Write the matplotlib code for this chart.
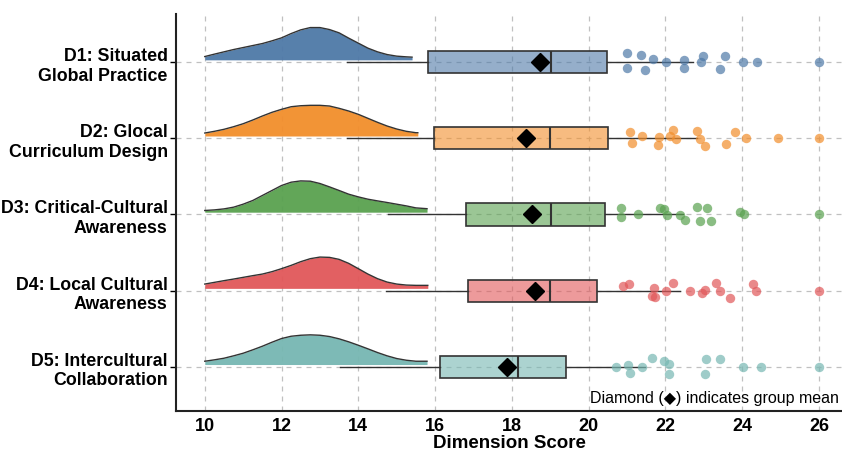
import numpy as np
import matplotlib
matplotlib.use("Agg")
import matplotlib.pyplot as plt

plt.rcParams['font.family'] = ['Liberation Sans', 'DejaVu Sans']

categories = ["D1: Situated\nGlobal Practice", "D2: Glocal\nCurriculum Design",
              "D3: Critical-Cultural\nAwareness", "D4: Local Cultural\nAwareness",
              "D5: Intercultural\nCollaboration"]
colors = ["#4E79A7", "#F28E2B", "#59A14F", "#E15759", "#76B7B2"]

# density curves (x grid, relative height)
dens_x = [
    [10, 10.25, 10.5, 10.75, 11, 11.25, 11.5, 11.75, 12, 12.25, 12.5, 12.75, 13, 13.25, 13.5, 13.75, 14, 14.25, 14.5, 14.75, 15, 15.25, 15.4],
    [10, 10.25, 10.5, 10.75, 11, 11.25, 11.5, 11.75, 12, 12.25, 12.5, 12.75, 13, 13.25, 13.5, 13.75, 14, 14.25, 14.5, 14.75, 15, 15.25, 15.5, 15.55],
    [10, 10.25, 10.5, 10.75, 11, 11.25, 11.5, 11.75, 12, 12.25, 12.5, 12.75, 13, 13.25, 13.5, 13.75, 14, 14.25, 14.5, 14.75, 15, 15.25, 15.5, 15.79],
    [10, 10.25, 10.5, 10.75, 11, 11.25, 11.5, 11.75, 12, 12.25, 12.5, 12.75, 13, 13.25, 13.5, 13.75, 14, 14.25, 14.5, 14.75, 15, 15.25, 15.5, 15.81],
    [10, 10.25, 10.5, 10.75, 11, 11.25, 11.5, 11.75, 12, 12.25, 12.5, 12.75, 13, 13.25, 13.5, 13.75, 14, 14.25, 14.5, 14.75, 15, 15.25, 15.5, 15.79],
]
dens_h = [
    [3.3, 5.7, 8.0, 10.3, 12.3, 14.3, 16.3, 19.0, 22.0, 26.3, 30.0, 32.3, 32.3, 30.3, 27.0, 21.7, 16.7, 11.7, 8.0, 5.3, 3.7, 3.0, 2.7],
    [3.0, 4.7, 6.7, 9.3, 12.3, 16.0, 20.0, 23.7, 26.7, 29.3, 30.3, 30.7, 30.7, 30.0, 27.7, 25.0, 21.7, 17.7, 13.7, 10.0, 7.0, 4.7, 3.3, 3.3],
    [1.7, 2.3, 3.3, 5.0, 8.0, 11.7, 16.7, 21.7, 26.7, 30.0, 31.3, 31.0, 28.7, 25.3, 21.7, 18.0, 15.3, 13.0, 11.3, 9.7, 8.0, 6.3, 4.3, 3.5],
    [4.3, 6.0, 7.7, 9.3, 11.0, 12.7, 14.3, 16.7, 19.7, 23.0, 26.7, 29.7, 31.3, 31.0, 29.0, 25.0, 19.7, 14.3, 9.7, 6.3, 4.3, 3.3, 3.0, 3.0],
    [3.3, 4.7, 6.3, 8.7, 11.3, 14.7, 18.3, 22.3, 26.0, 28.3, 29.3, 29.7, 29.3, 28.0, 25.7, 22.7, 19.3, 15.7, 12.0, 8.7, 6.0, 4.3, 3.3, 3.3],
]

# box statistics
whislo = [13.70, 13.70, 14.78, 14.72, 13.52]
q1 = [15.82, 15.97, 16.80, 16.86, 16.12]
med = [19.01, 19.00, 19.01, 19.00, 18.16]
q3 = [20.49, 20.51, 20.42, 20.22, 19.42]
whishi = [22.71, 22.81, 22.47, 22.38, 21.47]
means = [18.72, 18.36, 18.53, 18.59, 17.88]

# individual points
pts_x = [
    [21.01, 21.01, 21.36, 21.47, 21.67, 22.01, 22.48, 22.49, 22.92, 22.97, 23.41, 23.55, 24.01, 24.39, 26.0],
    [21.08, 21.14, 21.38, 21.80, 21.83, 22.13, 22.21, 22.28, 22.81, 22.89, 23.02, 23.59, 23.81, 24.10, 24.92, 26.0],
    [20.83, 20.83, 21.28, 21.87, 21.97, 22.05, 22.38, 22.52, 22.81, 22.90, 23.09, 23.20, 23.94, 24.06, 26.0],
    [20.89, 21.06, 21.64, 21.71, 21.73, 22.02, 22.21, 22.64, 22.96, 23.03, 23.32, 23.42, 23.68, 24.29, 24.35, 26.0],
    [20.70, 21.03, 21.08, 21.40, 21.66, 21.97, 22.10, 22.10, 23.02, 23.05, 23.41, 24.01, 24.49, 26.0],
]
pts_jitter = [
    [-0.114, 0.083, -0.092, 0.101, -0.039, 0.004, 0.083, -0.026, -0.004, -0.083, 0.092, -0.083, 0, 0, 0],
    [-0.088, 0.066, -0.030, 0.092, -0.017, -0.026, -0.114, 0.013, -0.096, 0.004, 0.101, 0.070, -0.088, 0, 0, 0],
    [-0.088, 0.034, 0, -0.088, -0.071, 0.004, 0.004, 0.079, -0.092, 0.092, -0.084, 0.092, -0.039, 0, 0],
    [-0.066, -0.084, 0.073, -0.031, 0.083, 0.004, -0.101, 0.004, 0.026, -0.005, -0.101, 0.004, 0.100, -0.088, 0.004, 0],
    [0.008, -0.026, 0.087, 0.008, -0.110, -0.079, -0.035, 0.096, 0.100, -0.101, -0.101, 0, 0, 0],
]

xticks = [10, 12, 14, 16, 18, 20, 22, 24, 26]

fig = plt.figure(figsize=(8.42, 4.52), dpi=100)
ax = fig.add_axes([0.209, 0.0885, 0.791, 0.878])

dens_scale = 1 / 76.2
dens_offset = 0.03
edge = "#333333"

for i in range(len(categories)):
    c = colors[i]
    dx = np.array(dens_x[i])
    dh = np.array(dens_h[i]) * dens_scale
    base = i - dens_offset
    ax.fill_between(dx, base, base - dh, color=c, alpha=0.95, lw=0, zorder=2)
    ax.plot(dx, base - dh, color=edge, lw=1.0, zorder=3)

    stats = [dict(whislo=whislo[i], q1=q1[i], med=med[i], q3=q3[i], whishi=whishi[i], fliers=[])]
    ax.bxp(stats, positions=[i], widths=0.29, vert=False, patch_artist=True,
           showcaps=False, showfliers=False,
           boxprops=dict(facecolor=matplotlib.colors.to_rgba(c, 0.6), edgecolor=edge, lw=1.2),
           medianprops=dict(color=edge, lw=1.5),
           whiskerprops=dict(color=edge, lw=1.0), manage_ticks=False, zorder=4)

    ax.scatter(pts_x[i], np.array(pts_jitter[i]) + i, s=46, color=c, alpha=0.7,
               lw=0, zorder=5)
    ax.plot(means[i], i, marker="D", color="black", ms=9, zorder=6)

ax.set_xlim(9.25, 26.6)
ax.set_ylim(4.58, -0.63)
ax.set_yticks(range(len(categories)))
ax.set_yticklabels(categories, fontsize=12.8, fontweight="bold")
ax.set_xticks(xticks)
ax.set_xticklabels([str(t) for t in xticks], fontsize=13, fontweight="bold")
ax.tick_params(axis="x", length=0, pad=4)
ax.tick_params(axis="y", length=4, width=1, pad=2)
ax.set_xlabel("Dimension Score", fontsize=13.5, fontweight="bold", labelpad=0)

ax.grid(True, linestyle=(0, (4, 4)), color="#c0c0c0", lw=0.9, zorder=0)
ax.set_axisbelow(True)
for s in ["top", "right"]:
    ax.spines[s].set_visible(False)
for s in ["left", "bottom"]:
    ax.spines[s].set_linewidth(1.5)
    ax.spines[s].set_color("#222222")

ax.text(0.995, 0.035, "Diamond (\u25C6) indicates group mean", transform=ax.transAxes,
        ha="right", va="center", fontsize=11.5)

fig.savefig("out.png", dpi=100)
